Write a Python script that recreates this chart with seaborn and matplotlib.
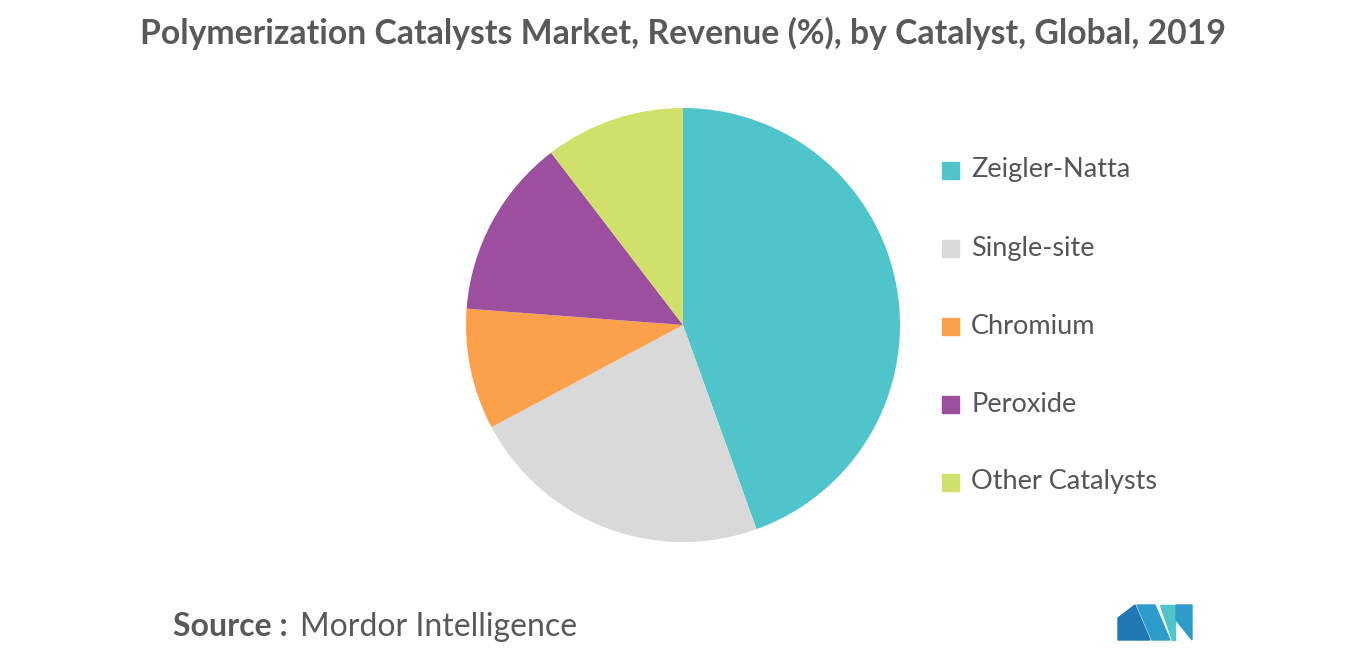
import matplotlib
matplotlib.use("Agg")
import matplotlib.pyplot as plt
from matplotlib.patches import Rectangle, Polygon
import seaborn as sns

catalysts = ["Zeigler-Natta", "Single-site", "Chromium", "Peroxide", "Other Catalysts"]
shares = [44.5, 22.7, 9.0, 13.4, 10.4]
palette = sns.color_palette(["#4FC4CA", "#D9D9D9", "#FBA04B", "#9C4F9F", "#D1E06A"])

sns.set_theme(style="white", font="Lato")
W, H = 1366, 655
fig = plt.figure(figsize=(W / 100, H / 100), dpi=100)

# pie: centre (683, 325), radius 217 px
r = 217
ax = fig.add_axes([(683 - r) / W, (H - 325 - r) / H, 2 * r / W, 2 * r / H])
ax.pie(shares, colors=palette, startangle=90, counterclock=False,
       wedgeprops=dict(linewidth=0))
ax.set_xlim(-1, 1)
ax.set_ylim(-1, 1)
ax.set_aspect("equal")

# legend drawn by hand to match spacing
for i, (name, col) in enumerate(zip(catalysts, palette)):
    y = 1 - (170 + 78 * i) / H
    fig.patches.append(Rectangle((942 / W, y - 9 / H), 17 / W, 17 / H,
                                 transform=fig.transFigure, color=col))
    fig.text(971 / W, y, name, fontsize=19.5, color="#555555", va="center")

fig.text(0.5, 1 - 33 / H,
         "Polymerization Catalysts Market, Revenue (%), by Catalyst, Global, 2019",
         ha="center", va="center", fontsize=24.3, fontweight="bold", color="#595959")
fig.text(173 / W, 1 - 627 / H, "Source :", fontsize=23, fontweight="bold",
         color="#595959", va="center")
fig.text(300 / W, 1 - 627 / H, "Mordor Intelligence", fontsize=23,
         color="#595959", va="center")

# logo
def px(pts):
    return [(x / W, 1 - y / H) for x, y in pts]
for pts, c in [
    ([(1118, 640), (1118, 618), (1135, 605), (1150, 640)], "#1F77B4"),
    ([(1137, 605), (1155, 605), (1170, 640), (1152, 640)], "#2E9CCB"),
    ([(1160, 605), (1175, 605), (1175, 640), (1172, 640)], "#4FC4CA"),
    ([(1176, 605), (1192, 605), (1192, 640), (1176, 620)], "#2E9CCB"),
]:
    fig.patches.append(Polygon(px(pts), closed=True, transform=fig.transFigure, color=c))

fig.savefig("out.png", dpi=100, facecolor="white")
